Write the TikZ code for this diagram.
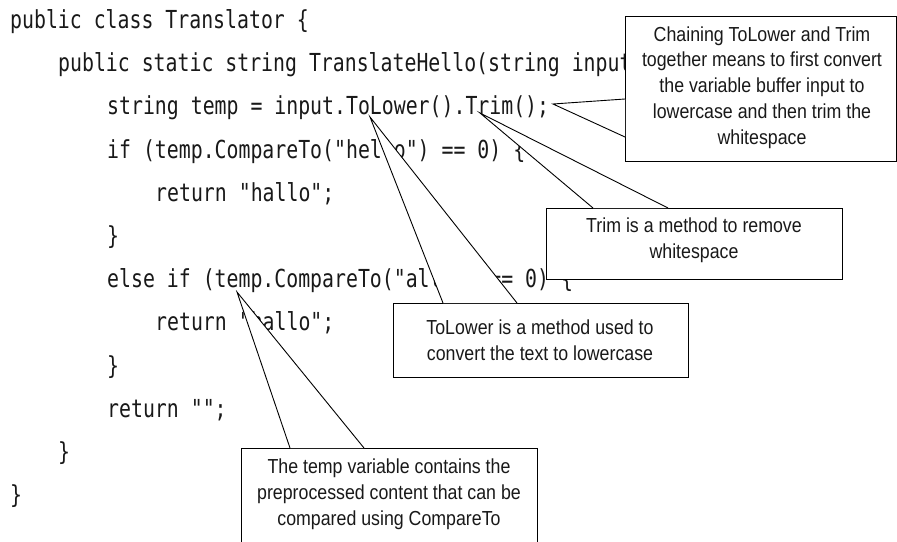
\documentclass[tikz,border=0pt]{standalone}
\usepackage{fontspec}
\newfontfamily\codefont[FakeStretch=0.8]{DejaVu Sans Mono}
\newfontfamily\notefont[FakeStretch=0.875]{Liberation Sans}
\begin{document}
\begin{tikzpicture}[x=1pt,y=-1pt,
  codeline/.style={anchor=base west,inner sep=0pt,text=black!90,font=\codefont\fontsize{24.8}{24.8}\selectfont},
  notebox/.style={draw=black,fill=white,line width=0.9pt,inner sep=0pt},
  notetext/.style={align=center,inner sep=0pt,text=black!90,font=\notefont\fontsize{20.3}{25.8}\selectfont},
  wedgefill/.style={fill=white},
  wedgeline/.style={draw=black,line width=0.9pt,line join=miter}]
\clip (0,0) rectangle (897,541);
\fill[white] (0,0) rectangle (897,541);
% code
\def\bl#1{28.5+43.2*(#1-1)}
\node[codeline] (c1)  at (10,{\bl{1}})  {public class Translator \{};
\node[codeline] (c2)  at (58,{\bl{2}})  {public static string TranslateHello(string input) \{};
\node[codeline] (c3)  at (107,{\bl{3}}) {string temp = input.ToLower().Trim();};
\node[codeline] (c4)  at (107,{\bl{4}}) {if (temp.CompareTo("hello") == 0) \{};
\node[codeline] (c5)  at (155,{\bl{5}}) {return "hallo";};
\node[codeline] (c6)  at (107,{\bl{6}}) {\}};
\node[codeline] (c7)  at (107,{\bl{7}}) {else if (temp.CompareTo("allo") == 0) \{};
\node[codeline] (c8)  at (155,{\bl{8}}) {return "hallo";};
\node[codeline] (c9)  at (107,{\bl{9}}) {\}};
\node[codeline] (c10) at (107,{\bl{10}}) {return "";};
\node[codeline] (c11) at (58,{\bl{11}}) {\}};
\node[codeline] (c12) at (10,{\bl{12}}) {\}};
% boxes
\node[notebox,anchor=north west,minimum width=271pt,minimum height=145pt] (b1) at (625,16) {};
\node[notetext] (t1) at (762,87.5) {Chaining ToLower and Trim\\together means to first convert\\the variable buffer input to\\lowercase and then trim the\\whitespace};
\node[notebox,anchor=north west,minimum width=296pt,minimum height=71pt] (b2) at (546,208) {};
\node[notetext] (t2) at (694,240.5) {Trim is a method to remove\\whitespace};
\node[notebox,anchor=north west,minimum width=295pt,minimum height=74pt] (b3) at (393,303) {};
\node[notetext] (t3) at (540,340) {ToLower is a method used to\\convert the text to lowercase};
\node[notebox,anchor=north west,minimum width=296pt,minimum height=120pt] (b4) at (241,448) {};
\node[notetext] (t4) at (389,494) {The temp variable contains the\\preprocessed content that can be\\compared using CompareTo};
% wedge points
\coordinate (p1) at (553,104);
\coordinate (a1) at (625,99);
\coordinate (z1) at (625,137);
\coordinate (p2) at (480,113);
\coordinate (a2) at (593,208);
\coordinate (z2) at (668,208);
\coordinate (p3) at (370,117);
\coordinate (a3) at (443,303);
\coordinate (z3) at (517,303);
\coordinate (p4) at (237,292);
\coordinate (a4) at (290,448);
\coordinate (z4) at (364,448);
\foreach \i in {1,2,3,4}{
  \fill[wedgefill] (a\i) -- (p\i) -- (z\i) -- cycle;
  \draw[wedgeline] (a\i) -- (p\i) -- (z\i);
}
\end{tikzpicture}
\end{document}
